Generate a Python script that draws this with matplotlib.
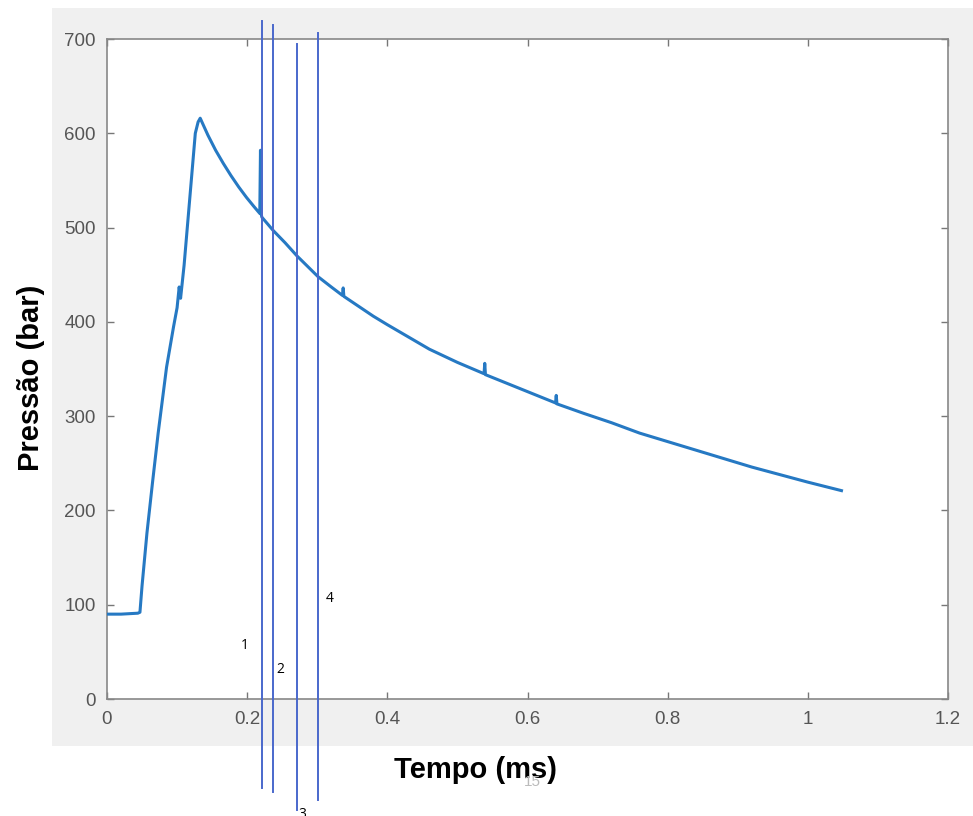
import matplotlib.pyplot as plt
from matplotlib.patches import Rectangle

# --- Pressure trace (time in ms, pressure in bar) ---
tempo = [0.000, 0.020, 0.044, 0.047, 0.050, 0.057, 0.065, 0.073, 0.085, 0.095,
         0.100, 0.103, 0.105, 0.110, 0.118, 0.126, 0.130, 0.133,
         0.144, 0.155, 0.166, 0.177, 0.188, 0.199, 0.210, 0.218, 0.219, 0.220,
         0.221, 0.237, 0.254, 0.271, 0.286, 0.301, 0.320, 0.336, 0.337, 0.338,
         0.360, 0.380, 0.400, 0.430, 0.460, 0.500, 0.538, 0.539, 0.540, 0.580,
         0.620, 0.640, 0.641, 0.642, 0.680, 0.720, 0.760, 0.800, 0.840, 0.880,
         0.920, 0.960, 1.000, 1.048]
pressao = [90, 90, 91, 92, 120, 176, 230, 282, 352, 395,
           415, 437, 425, 460, 530, 600, 612, 616,
           598, 582, 568, 555, 543, 532, 522, 515, 582, 514,
           511, 497, 484, 470, 459, 448, 437, 428, 436, 427,
           416, 406, 397, 384, 371, 357, 345, 356, 344, 332,
           320, 314, 322, 313, 303, 293, 282, 273, 264, 255,
           246, 238, 230, 221]

# --- Marker lines: x position, lower and upper ends, label position ---
marcas_x = [0.221, 0.237, 0.271, 0.301]
marcas_y0 = [-94, -99, -118, -107]
marcas_y1 = [719, 715, 695, 706]
rotulos = ["1", "2", "3", "4"]
rotulos_x = [0.197, 0.247, 0.278, 0.318]
rotulos_y = [57, 31, -122, 107]

xticks = [0, 0.2, 0.4, 0.6, 0.8, 1, 1.2]
xticklabels = ["0", "0.2", "0.4", "0.6", "0.8", "1", "1.2"]
yticks = [0, 100, 200, 300, 400, 500, 600, 700]

fig = plt.figure(figsize=(9.73, 8.16), dpi=100)
fig.patch.set_facecolor("white")

# grey figure panel behind the axes
fig.patches.append(Rectangle((52 / 973, 70 / 816), 1 - 52 / 973, 738 / 816,
                             transform=fig.transFigure, facecolor="#f0f0f0",
                             edgecolor="none", zorder=-5))

ax = fig.add_axes([107 / 973, 117 / 816, 841 / 973, 660 / 816])
ax.set_zorder(2)
ax.set_facecolor("white")

ax.plot(tempo, pressao, color="#2679c3", lw=2.2, zorder=3,
        solid_joinstyle="round")

for x, y0, y1 in zip(marcas_x, marcas_y0, marcas_y1):
    ax.plot([x, x], [y0, y1], color="#4a68cc", lw=1.4, clip_on=False, zorder=4)

for s, x, y in zip(rotulos, rotulos_x, rotulos_y):
    ax.text(x, y, s, fontsize=10, family="Open Sans", color="black",
            ha="center", va="center", clip_on=False)

ax.set_xlim(0, 1.2)
ax.set_ylim(0, 700)
ax.set_xticks(xticks)
ax.set_xticklabels(xticklabels)
ax.set_yticks(yticks)
ax.tick_params(direction="in", length=5, width=1, color="#777777",
               labelcolor="#555555", labelsize=13.5, top=True, right=True)
ax.tick_params(axis="x", pad=9)
ax.tick_params(axis="y", pad=8)
for lab in ax.get_xticklabels() + ax.get_yticklabels():
    lab.set_family("Liberation Sans")
for sp in ax.spines.values():
    sp.set_color("#888888")
    sp.set_linewidth(1.2)

fig.text(476 / 973, 1 - 770 / 816, "Tempo (ms)", fontsize=21, fontweight="bold",
         family="Liberation Sans", ha="center", va="center")
fig.text(31 / 973, 1 - 378 / 816, "Pressão (bar)", fontsize=21, fontweight="bold",
         family="Liberation Sans", ha="center", va="center", rotation=90)
fig.text(532 / 973, 1 - 782 / 816, "15", fontsize=11, color="#bbbbbb",
         family="Liberation Sans", ha="center", va="center")

fig.savefig("out.png", dpi=100)
